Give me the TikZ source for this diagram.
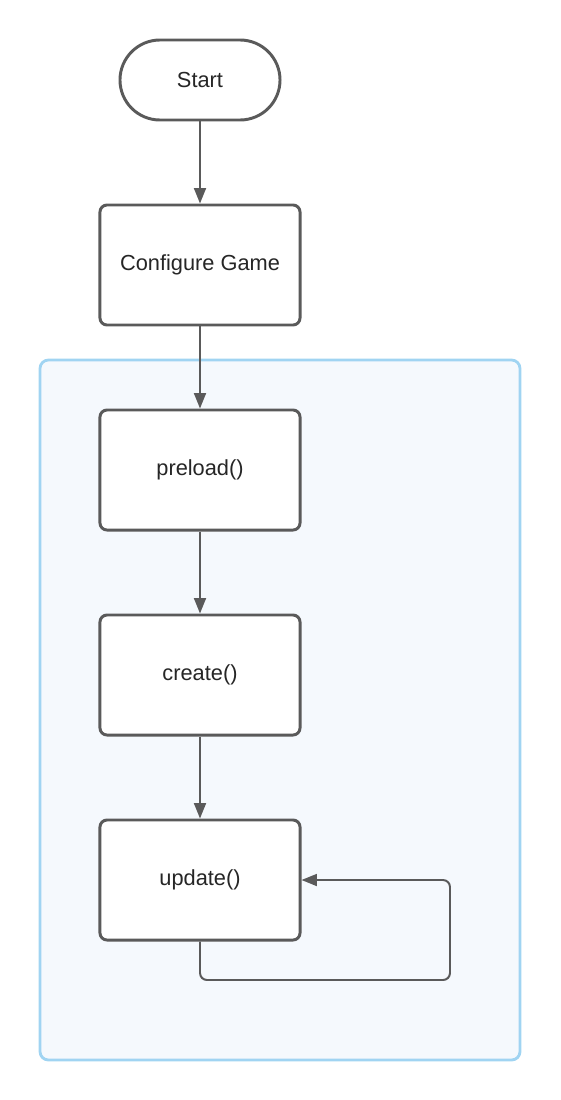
\documentclass[tikz,border=0pt]{standalone}
\usepackage{fontspec}
\setmainfont{Liberation Sans}
\usepackage{xcolor}
\usetikzlibrary{arrows, arrows.meta}
\usetikzlibrary{positioning}
\usetikzlibrary{calc}
\definecolor{boxgray}{RGB}{90,90,90}
\definecolor{framblue}{RGB}{160,212,242}
\definecolor{framfill}{RGB}{245,249,253}
\tikzset{
	stepbox/.style={draw=boxgray, line width=2.1pt, rounded corners=5pt, fill=white,
		minimum width=5cm, minimum height=3cm, font=\fontsize{15.5}{18}\selectfont, text=black!85},
	startbox/.style={stepbox, minimum width=4cm, minimum height=2cm, rounded corners=1cm},
	flow/.style={draw=boxgray, line width=1.4pt, -{Triangle[length=11pt, width=8.5pt]}},
}

\begin{document}
\begin{tikzpicture}[x=0.025cm, y=-0.025cm]
			\useasboundingbox (0,0) rectangle (560,1100);
			% draw frame
			\draw[draw=framblue, fill=framfill, line width=2pt, rounded corners=6pt] (40,360) rectangle (520,1060);
			% draw nodes
			\node[startbox] (start) at (200,80) {Start};
			\node[stepbox] (config) at (200,265) {Configure Game};
			\node[stepbox] (preload) at (200,470) {preload()};
			\node[stepbox] (create) at (200,675) {create()};
			\node[stepbox] (update) at (200,880) {update()};
			% add arrows
			\draw[flow] (start) -- (config);
			\draw[flow] (config) -- (preload);
			\draw[flow] (preload) -- (create);
			\draw[flow] (create) -- (update);
			% loop back
			\coordinate (loopbot) at (450,980);
			\draw[flow, rounded corners=5pt] (update.south) |- (loopbot) |- (update.east);
		\end{tikzpicture}
\end{document}
